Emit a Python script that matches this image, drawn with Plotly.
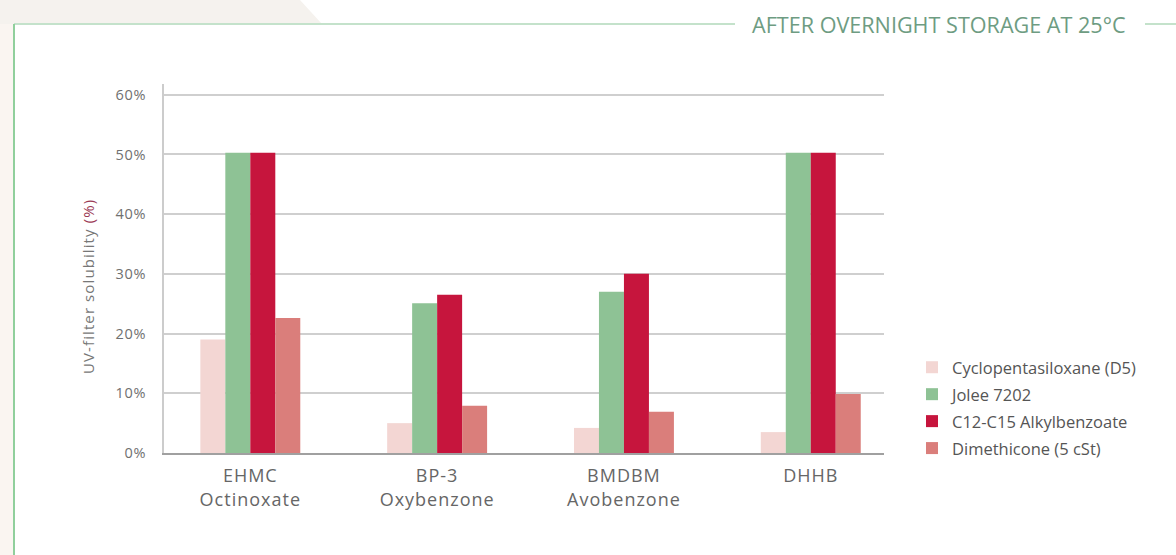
import plotly.graph_objects as go

categories = ["EHMC<br>Octinoxate", "BP-3<br>Oxybenzone", "BMDBM<br>Avobenzone", "DHHB"]
series_names = ["Cyclopentasiloxane (D5)", "Jolee 7202", "C12-C15 Alkylbenzoate", "Dimethicone (5 cSt)"]
d5_values = [19.0, 5.0, 4.2, 3.5]
jolee_values = [50.3, 25.1, 27.0, 50.3]
c12_values = [50.3, 26.5, 30.0, 50.3]
dimethicone_values = [22.6, 7.9, 6.9, 9.9]
y_tick_values = [0, 10, 20, 30, 40, 50, 60]
y_tick_labels = ["0%", "10%", "20%", "30%", "40%", "50%", "60%"]

colors = ["#F3D6D3", "#8EC295", "#C6153D", "#DA7E7B"]
series_values = [d5_values, jolee_values, c12_values, dimethicone_values]

W, H = 1176, 555
L, R, T, B = 164, 292, 84, 102
PW, PH = W - L - R, H - T - B


def px(x):
    return (x - L) / PW


def py(y):
    return (H - B - y) / PH


def spaced(text, sp):
    return "<br>".join(f"<span style='letter-spacing:{sp}px'>{part}</span>" for part in text.split("<br>"))


FONT = "'Open Sans', Lato, sans-serif"

fig = go.Figure()
for i, (name, vals, col) in enumerate(zip(series_names, series_values, colors)):
    fig.add_trace(go.Bar(
        x=categories, y=vals, name=name, legendgroup=f"g{i}",
        marker=dict(color=col, line=dict(width=0)),
        hovertemplate="%{y:.1f}%<extra>" + name + "</extra>",
    ))

shapes = [
    dict(type="rect", xref="paper", yref="paper", x0=px(0), x1=px(14), y0=py(H), y1=py(0),
         fillcolor="#FAF5F1", line=dict(width=0), layer="below"),
    dict(type="path", xref="paper", yref="paper",
         path=f"M {px(0)} {py(0)} L {px(300)} {py(0)} L {px(322)} {py(24)} L {px(0)} {py(24)} Z",
         fillcolor="#F5F2EE", line=dict(width=0), layer="below"),
    dict(type="line", xref="paper", yref="paper", x0=px(14), x1=px(735), y0=py(24), y1=py(24),
         line=dict(color="#C4E2CB", width=2)),
    dict(type="line", xref="paper", yref="paper", x0=px(1145), x1=px(W), y0=py(24), y1=py(24),
         line=dict(color="#C4E2CB", width=2)),
    dict(type="line", xref="paper", yref="paper", x0=px(14), x1=px(14), y0=py(24), y1=py(H),
         line=dict(color="#90CF9C", width=2)),
]

annotations = [
    dict(text="AFTER OVERNIGHT STORAGE AT 25°C", xref="paper", yref="paper",
         x=px(939), y=py(24), xanchor="center", yanchor="middle", showarrow=False,
         font=dict(family=FONT, size=21.6, color="#6E9C82")),
    dict(text="<span style='letter-spacing:1.1px'>UV-filter solubility </span>"
              "<span style='color:#9B3A55;letter-spacing:1.1px'>(%)</span>",
         xref="paper", yref="paper",
         x=px(88), y=py(287), xanchor="center", yanchor="middle", showarrow=False, textangle=-90,
         font=dict(family=FONT, size=15, color="#777777")),
]

fig.update_layout(
    width=W, height=H,
    margin=dict(l=L, r=R, t=T, b=B, autoexpand=False),
    paper_bgcolor="white", plot_bgcolor="white",
    barmode="group", bargap=0.465, bargroupgap=0,
    font=dict(family=FONT, color="#666666"),
    showlegend=True,
    legend=dict(x=px(912), y=py(350), xanchor="left", yanchor="top",
                font=dict(family=FONT, size=16.5, color="#555555"),
                tracegroupgap=2.5, bgcolor="rgba(0,0,0,0)", traceorder="grouped"),
    shapes=shapes, annotations=annotations,
    xaxis=dict(
        type="category", range=[-0.462, 3.392],
        tickvals=categories, ticktext=[spaced(c, 1) for c in categories],
        showline=True, linecolor="#A0A0A0", linewidth=1.5,
        showgrid=False, ticks="", ticklabelstandoff=6,
        tickfont=dict(family=FONT, size=18, color="#666666"),
    ),
    yaxis=dict(
        range=[0, 61.8], tickvals=y_tick_values, ticktext=[spaced(t, 0.8) for t in y_tick_labels],
        showline=True, linecolor="#CCCCCC", linewidth=1.5,
        showgrid=True, gridcolor="#CFCFCF", gridwidth=1.5,
        zeroline=False, ticks="", ticklabelstandoff=13,
        tickfont=dict(family=FONT, size=14.5, color="#707070"),
    ),
)

fig.write_html("out.html", config={"displayModeBar": False},
               post_script="document.body.style.margin='0px';")
